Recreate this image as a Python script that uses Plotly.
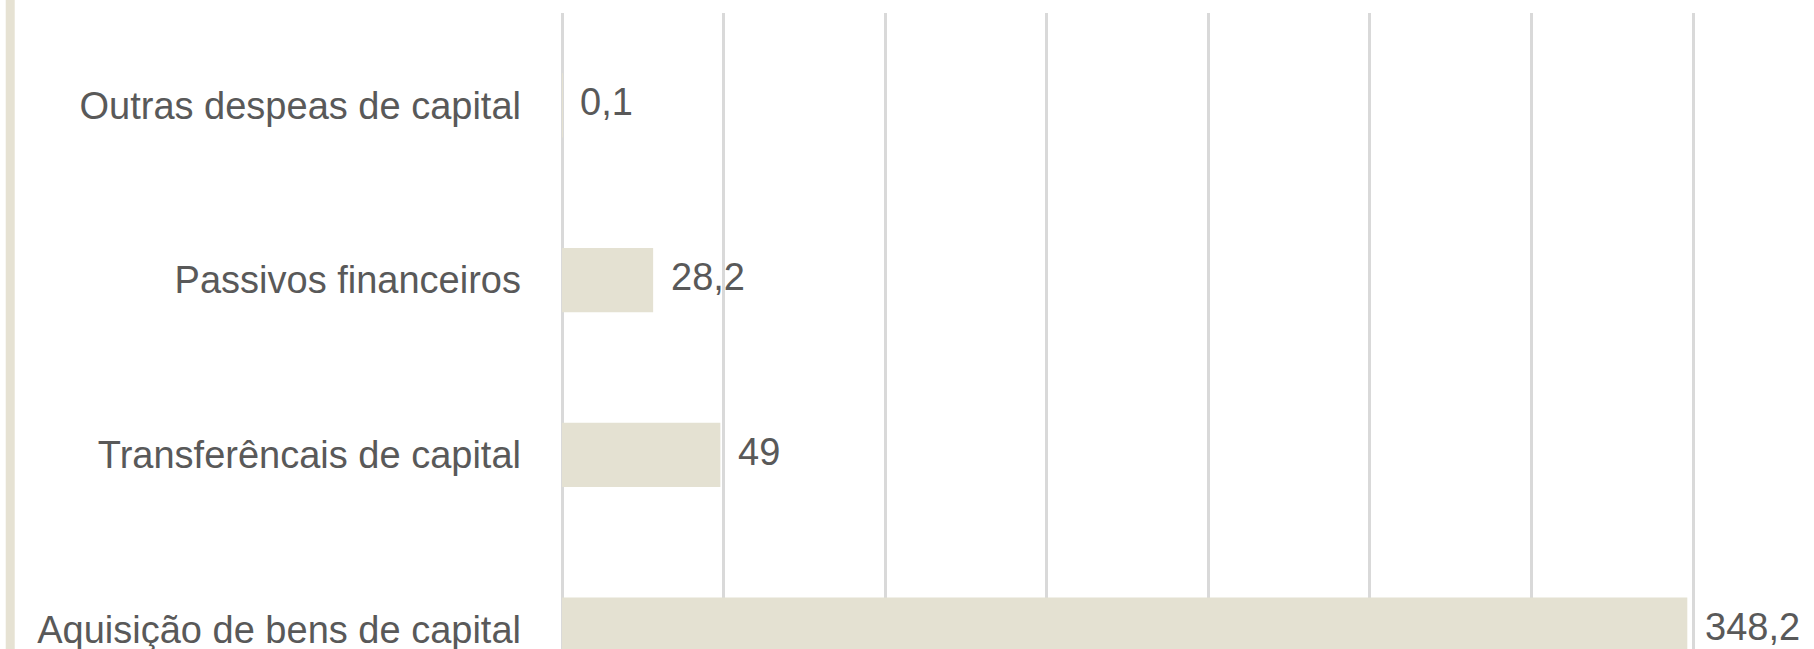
import plotly.graph_objects as go

categories = [
    "Aquisição de bens de capital",
    "Transferêncais de capital",
    "Passivos financeiros",
    "Outras despeas de capital",
]
values = [348.2, 49, 28.2, 0.1]
value_labels = [f"{v:g}".replace(".", ",") for v in values]
x_ticks = [0, 50, 100, 150, 200, 250, 300, 350]

BAR = "#E4E1D2"
TXT = "#595959"
GRID = "#D9D9D9"
FONT = "Liberation Sans"

fig = go.Figure()
fig.add_trace(go.Bar(
    x=values, y=categories, orientation="h",
    marker=dict(color=BAR, line=dict(width=0)),
    width=0.368, hoverinfo="skip",
))

for v, c, lab in zip(values, categories, value_labels):
    fig.add_annotation(x=v, y=c, text=lab, showarrow=False,
                       xanchor="left", yanchor="middle", xshift=16, yshift=3,
                       font=dict(family=FONT, size=38, color=TXT))

W, H = 1814, 649
L, T = 561.5, 13
pw = W - L
ph = H - T
# left beige strip of the chart frame
fig.add_shape(type="rect", xref="paper", yref="paper",
              x0=(5 - L) / pw, x1=(14 - L) / pw,
              y0=-0.1, y1=1 + T / ph + 0.05,
              fillcolor="#E6E2D3", line=dict(width=0), layer="above")

fig.update_layout(
    width=W, height=H,
    margin=dict(l=L, r=0, t=T, b=0, pad=0, autoexpand=False),
    paper_bgcolor="white", plot_bgcolor="white",
    showlegend=False,
    font=dict(family=FONT, size=38, color=TXT),
    xaxis=dict(range=[0, 387.4], tickvals=x_ticks, showticklabels=False,
               showgrid=True, gridcolor=GRID, gridwidth=3,
               zeroline=True, zerolinecolor=GRID, zerolinewidth=3,
               showline=False, fixedrange=True, automargin=False),
    yaxis=dict(categoryorder="array", categoryarray=categories,
               range=[-0.111, 3.529], showgrid=False, zeroline=False,
               showline=False, ticks="", ticklabelstandoff=40,
               automargin=False, fixedrange=True,
               tickfont=dict(family=FONT, size=38, color=TXT)),
)

fig.write_html(
    "out.html",
    config={"displayModeBar": False},
    post_script="document.body.style.margin='0';document.body.style.overflow='hidden';",
)
